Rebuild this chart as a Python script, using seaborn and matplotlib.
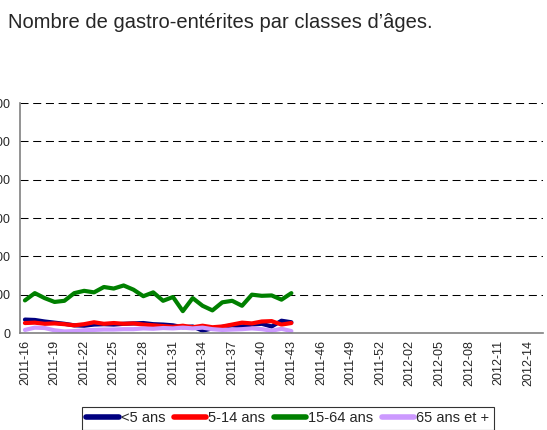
import numpy as np
import pandas as pd
import matplotlib
matplotlib.use("Agg")
import matplotlib.pyplot as plt
from matplotlib.lines import Line2D
import seaborn as sns

# semaines de l'axe (53 catégories)
semaines = [f"2011-{w:02d}" for w in range(16, 54)] + [f"2012-{w:02d}" for w in range(1, 16)]
semaines_donnees = semaines[:28]

# nombre de cas par classe d'âge
moins_5 = [35, 34, 30, 27, 24, 20, 19, 22, 23, 22, 24, 25, 26, 23,
           22, 20, 15, 17, 6, 12, 16, 20, 17, 22, 24, 17, 32, 28]
de_5_14 = [26, 27, 24, 25, 23, 20, 23, 28, 24, 26, 24, 25, 22, 20,
           18, 16, 19, 15, 19, 15, 17, 22, 27, 25, 30, 31, 22, 26]
de_15_64 = [85, 104, 91, 81, 84, 104, 110, 106, 120, 116, 124, 113, 96, 106,
            84, 94, 57, 91, 71, 59, 80, 84, 71, 100, 97, 98, 87, 104]
plus_65 = [8, 14, 13, 7, 4, 5, 7, 8, 9, 9, 10, 10, 12, 11,
           13, 12, 14, 12, 14, 10, 8, 9, 10, 12, 10, 6, 11, 5]

classes = ["<5 ans", "5-14 ans", "15-64 ans", "65 ans et +"]
couleurs = {"<5 ans": "#000080", "5-14 ans": "#FF0000",
            "15-64 ans": "#008000", "65 ans et +": "#CC99FF"}

frames = []
for nom, vals in zip(classes, [moins_5, de_5_14, de_15_64, plus_65]):
    frames.append(pd.DataFrame({"semaine": semaines_donnees, "nombre": vals, "classe": nom}))
df = pd.concat(frames, ignore_index=True)
df["pos"] = df["semaine"].map({s: i for i, s in enumerate(semaines)})

sns.set_style("white")
plt.rcParams["font.family"] = ["Liberation Sans", "DejaVu Sans"]

fig = plt.figure(figsize=(5.47, 4.30), dpi=100)
ax = fig.add_axes([20 / 547, 97 / 430, 523 / 547, 230 / 430])

sns.lineplot(data=df, x="pos", y="nombre", hue="classe", hue_order=classes,
             palette=couleurs, linewidth=3, ax=ax, legend=False)

ax.set_xlim(-0.5, len(semaines) - 0.5)
ax.set_ylim(0, 600)
ax.set_yticks(np.arange(0, 601, 100))
for yv in range(100, 601, 100):
    ax.axhline(yv, color="black", lw=0.75, dashes=(7.7, 4.5), zorder=0)

ax.set_xticks(np.arange(0, len(semaines), 3))
ax.set_xticklabels(semaines[::3], rotation=90, fontsize=9)
ax.set_xticks(np.arange(-0.5, len(semaines)), minor=True)
ax.tick_params(axis="x", which="major", length=0, pad=5)
ax.tick_params(axis="x", which="minor", length=3, width=0.8, color="#808080", direction="out")
ax.tick_params(axis="y", length=3, width=0.8, color="#808080", direction="out", labelsize=9, pad=4)
ax.set_xlabel("")
ax.set_ylabel("")

for s in ["top", "right"]:
    ax.spines[s].set_visible(False)
for s in ["left", "bottom"]:
    ax.spines[s].set_color("#808080")
    ax.spines[s].set_linewidth(1.2)

fig.text(8 / 547, 1 - 22 / 430, "Nombre de gastro-entérites par classes d’âges.",
         fontsize=14.5, va="center", ha="left")

handles = [Line2D([], [], color=couleurs[c], lw=4, solid_capstyle="round") for c in classes]
leg = fig.legend(handles, classes, loc="upper center", bbox_to_anchor=(288 / 547, 1 - 407 / 430),
                 ncol=4, fontsize=10.5, frameon=True, fancybox=False, handlelength=2.2,
                 handletextpad=0.15, columnspacing=0.6, borderpad=0.3, borderaxespad=0)
leg.get_frame().set_edgecolor("black")
leg.get_frame().set_linewidth(0.8)

fig.savefig("out.png", dpi=100)
